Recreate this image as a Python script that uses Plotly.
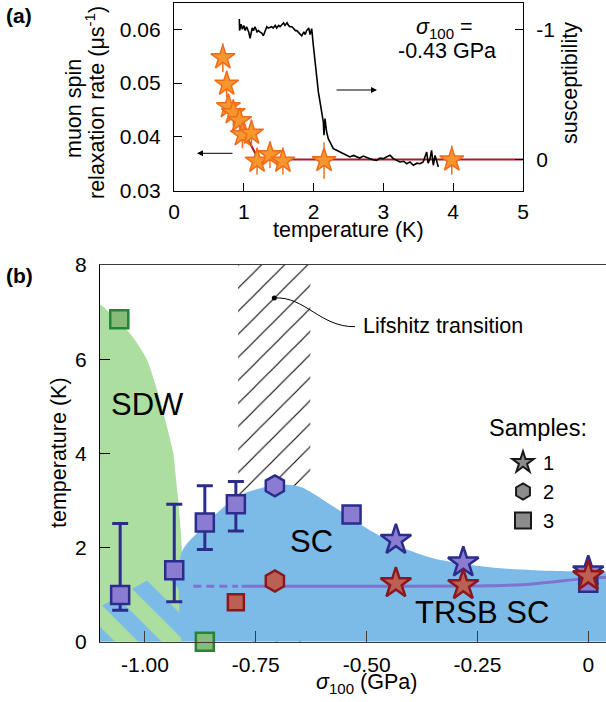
import plotly.graph_objects as go

W, H = 606, 702
FONT = "Liberation Sans, Arial, sans-serif"


def px(x):
    return x / W


def py(y):
    return 1 - y / H


# ---------------- Panel (a) data ----------------
musr_T = [0.70, 0.755, 0.78, 0.85, 0.94, 0.98, 1.11, 1.19, 1.375, 1.56, 2.15, 3.98]
musr_rate = [0.0547, 0.0498, 0.0456, 0.0445, 0.0430, 0.0404, 0.0407, 0.0355, 0.0367, 0.0355, 0.0356, 0.0357]
musr_err = [0.0027, 0.0025, 0.0024, 0.0025, 0.0024, 0.0025, 0.0025, 0.0025, 0.0025, 0.0025, 0.0034, 0.0027]

fit_T = [0.85, 1.21, 5.0]
fit_rate = [0.0448, 0.0358, 0.0358]

chi_T = [0.936, 0.94, 0.96, 0.98, 1.00, 1.02, 1.04, 1.07, 1.09, 1.12, 1.14, 1.16, 1.19,
         1.21, 1.23, 1.26, 1.28, 1.31, 1.33, 1.35, 1.38, 1.40, 1.42, 1.45, 1.47, 1.50,
         1.52, 1.54, 1.57, 1.59, 1.62, 1.64, 1.66, 1.69, 1.71, 1.74, 1.76, 1.78, 1.81,
         1.83, 1.86, 1.88, 1.90, 1.93, 1.95, 1.973, 1.996, 2.02, 2.044, 2.068, 2.092,
         2.116, 2.139, 2.149, 2.163, 2.187, 2.21, 2.235, 2.259, 2.283, 2.33, 2.378,
         2.426, 2.47, 2.52, 2.57, 2.617, 2.66, 2.712, 2.76, 2.808, 2.85, 2.904, 2.95,
         2.999, 3.05, 3.095, 3.142, 3.19, 3.238, 3.29, 3.334, 3.38, 3.43, 3.48, 3.524,
         3.57, 3.62, 3.64, 3.668, 3.69, 3.715, 3.74, 3.763, 3.787]
chi = [-1.08, -0.99, -1.04, -1.00, -1.03, -0.99, -1.02, -0.98, -0.93, -1.01, -0.99, -1.02, -0.98,
       -0.99, -0.98, -0.97, -0.95, -0.99, -1.02, -1.01, -1.02, -1.02, -1.01, -1.03, -1.01, -1.03,
       -1.02, -1.03, -1.05, -1.03, -1.05, -1.03, -1.02, -1.02, -1.01, -0.99, -0.99, -0.98, -0.96,
       -0.95, -0.98, -0.96, -0.99, -1.01, -0.96, -1.005, -0.877, -0.748, -0.62, -0.518, -0.441,
       -0.364, -0.287, -0.185, -0.313, -0.21, -0.159, -0.133, -0.108, -0.082, -0.069, -0.056,
       -0.043, -0.03, -0.018, -0.03, -0.018, -0.01, -0.025, -0.012, -0.005, 0.004, 0.008, -0.01,
       -0.005, -0.02, -0.031, -0.005, 0.01, 0.021, 0.015, 0.034, 0.02, 0.046, 0.03, 0.034,
       0.02, -0.056, 0.03, -0.005, -0.069, 0.046, -0.03, 0.021, 0.059]

# ---------------- Panel (b) data ----------------
sdw_sigma = [-1.1015, -1.1015, -1.0715, -1.034, -0.996, -0.966, -0.936, -0.932, -0.925, -0.917, -0.915]
sdw_T = [0.0, 7.15, 6.9, 6.55, 6.0, 5.13, 4.0, 3.64, 3.0, 2.0, 0.0]

stripe_sigma = [-1.1015, -1.1015, -0.967, -0.918, -0.918]
stripe_T = [0.0, 0.74, 1.45, 1.45, 0.0]

dome_sigma = [-0.918, -0.918, -0.876, -0.838, -0.786, -0.725, -0.695, -0.650, -0.575, -0.500,
              -0.425, -0.350, -0.274, -0.199, -0.124, -0.012, 0.04, 0.04]
dome_T = [0.0, 1.88, 2.37, 2.73, 3.11, 3.29, 3.33, 3.29, 2.87, 2.41,
          2.02, 1.77, 1.64, 1.56, 1.52, 1.49, 1.47, 0.0]

lifshitz_sigma = [-0.790, -0.627, -0.627, -0.790]
lifshitz_T = [0.0, 0.0, 8.0, 8.0]

trsb_dash_sigma = [-0.891, -0.790]
trsb_dash_T = [1.18, 1.18]
trsb_sigma = [-0.782, -0.50, -0.25, -0.15, -0.10, -0.05, 0.0, 0.04]
trsb_T = [1.18, 1.18, 1.185, 1.21, 1.25, 1.30, 1.35, 1.37]

# upper transition (SC onset)
sc3_err_sigma = [-1.056, -0.934, -0.865, -0.795]
sc3_err_T = [0.99, 1.52, 2.53, 2.92]
sc3_err_plus = [1.52, 1.40, 0.78, 0.48]
sc3_err_minus = [0.32, 0.67, 0.57, 0.57]
sc3_sigma = [-0.534, 0.0]
sc3_T = [2.70, 1.25]
sc2_sigma = [-0.707]
sc2_T = [3.31]
sc1_sigma = [-0.434, -0.282, 0.0]
sc1_T = [2.16, 1.68, 1.49]

# TRSB onset
tr3_sigma = [-0.795]
tr3_T = [0.84]
tr2_sigma = [-0.707]
tr2_T = [1.29]
tr1_sigma = [-0.434, -0.282, 0.0]
tr1_T = [1.24, 1.20, 1.39]

# SDW
sdw3_sigma = [-1.058, -0.865]
sdw3_T = [6.85, 0.0]

legend_names = ["1", "2", "3"]
legend_symbols = ["star", "hexagon", "square"]
legend_sizes = [22, 19, 16]

# colours
GREEN_FILL = "rgb(172,222,160)"
BLUE_FILL = "rgb(124,187,232)"
PURPLE = "rgb(138,124,208)"
NAVY = "rgb(44,44,140)"
RED_FILL = "rgb(188,96,86)"
RED_EDGE = "rgb(138,24,30)"
GRN_MK = "rgb(136,186,122)"
GRN_EDGE = "rgb(36,132,58)"
ORANGE = "rgb(246,150,44)"
ORANGE_EDGE = "rgb(238,108,28)"

fig = go.Figure()

# ---- panel (a) ----
fig.add_trace(go.Scatter(x=fit_T, y=fit_rate, mode="lines",
                         line=dict(color="rgb(168,28,40)", width=2),
                         xaxis="x", yaxis="y", showlegend=False))
fig.add_trace(go.Scatter(x=musr_T, y=musr_rate, mode="markers",
                         error_y=dict(type="data", array=musr_err, color=ORANGE_EDGE,
                                      thickness=1.5, width=0),
                         marker=dict(symbol="star", size=18, color=ORANGE,
                                     line=dict(color=ORANGE_EDGE, width=1.5)),
                         xaxis="x", yaxis="y", showlegend=False))
fig.add_trace(go.Scatter(x=chi_T, y=chi, mode="lines",
                         line=dict(color="black", width=1.6),
                         xaxis="x", yaxis="y2", showlegend=False))

# ---- panel (b) ----
fig.add_trace(go.Scatter(x=sdw_sigma, y=sdw_T, mode="lines", fill="toself",
                         fillcolor=GREEN_FILL, line=dict(width=0, shape="spline", smoothing=0.6),
                         xaxis="x3", yaxis="y3", showlegend=False, hoverinfo="skip"))
fig.add_trace(go.Scatter(x=lifshitz_sigma, y=lifshitz_T, mode="lines", fill="toself",
                         fillcolor="rgba(0,0,0,0)",
                         fillpattern=dict(shape="/", size=16.3, solidity=0.065,
                                          fgcolor="black", bgcolor="rgba(255,255,255,0)",
                                          fillmode="replace"),
                         line=dict(width=0),
                         xaxis="x3", yaxis="y3", showlegend=False, hoverinfo="skip"))
fig.add_trace(go.Scatter(x=stripe_sigma, y=stripe_T, mode="lines", fill="toself",
                         fillcolor="rgba(0,0,0,0)",
                         fillpattern=dict(shape="\\", size=33, solidity=0.5,
                                          fgcolor=BLUE_FILL, bgcolor=GREEN_FILL,
                                          fillmode="replace"),
                         line=dict(width=0),
                         xaxis="x3", yaxis="y3", showlegend=False, hoverinfo="skip"))
fig.add_trace(go.Scatter(x=dome_sigma, y=dome_T, mode="lines", fill="toself",
                         fillcolor=BLUE_FILL, line=dict(width=0, shape="spline", smoothing=0.8),
                         xaxis="x3", yaxis="y3", showlegend=False, hoverinfo="skip"))

# TRSB line
fig.add_trace(go.Scatter(x=trsb_dash_sigma, y=trsb_dash_T, mode="lines",
                         line=dict(color="rgba(128,108,205,0.9)", width=3, dash="8px,5px"),
                         xaxis="x3", yaxis="y3", showlegend=False))
fig.add_trace(go.Scatter(x=trsb_sigma, y=trsb_T, mode="lines",
                         line=dict(color="rgba(128,108,205,0.9)", width=3, shape="spline"),
                         xaxis="x3", yaxis="y3", showlegend=False))

# markers
fig.add_trace(go.Scatter(x=sc3_err_sigma, y=sc3_err_T, mode="markers",
                         error_y=dict(type="data", symmetric=False, array=sc3_err_plus,
                                      arrayminus=sc3_err_minus, color=NAVY, thickness=3, width=8),
                         marker=dict(symbol="square", size=18, color=PURPLE,
                                     line=dict(color=NAVY, width=2.5)),
                         xaxis="x3", yaxis="y3", showlegend=False))
fig.add_trace(go.Scatter(x=sc3_sigma, y=sc3_T, mode="markers",
                         marker=dict(symbol="square", size=18, color=PURPLE,
                                     line=dict(color=NAVY, width=2.5)),
                         xaxis="x3", yaxis="y3", showlegend=False))
fig.add_trace(go.Scatter(x=sc2_sigma, y=sc2_T, mode="markers",
                         marker=dict(symbol="hexagon", size=21, color=PURPLE,
                                     line=dict(color=NAVY, width=2.5)),
                         xaxis="x3", yaxis="y3", showlegend=False))
fig.add_trace(go.Scatter(x=sc1_sigma, y=sc1_T, mode="markers",
                         marker=dict(symbol="star", size=23, color=PURPLE,
                                     line=dict(color=NAVY, width=2.5)),
                         xaxis="x3", yaxis="y3", showlegend=False))
fig.add_trace(go.Scatter(x=tr3_sigma, y=tr3_T, mode="markers",
                         marker=dict(symbol="square", size=16, color=RED_FILL,
                                     line=dict(color=RED_EDGE, width=2.5)),
                         xaxis="x3", yaxis="y3", showlegend=False))
fig.add_trace(go.Scatter(x=tr2_sigma, y=tr2_T, mode="markers",
                         marker=dict(symbol="hexagon", size=21, color=RED_FILL,
                                     line=dict(color=RED_EDGE, width=2.5)),
                         xaxis="x3", yaxis="y3", showlegend=False))
fig.add_trace(go.Scatter(x=tr1_sigma, y=tr1_T, mode="markers",
                         marker=dict(symbol="star", size=23, color=RED_FILL,
                                     line=dict(color=RED_EDGE, width=2.5)),
                         xaxis="x3", yaxis="y3", showlegend=False))
fig.add_trace(go.Scatter(x=sdw3_sigma, y=sdw3_T, mode="markers", cliponaxis=False,
                         marker=dict(symbol="square", size=18, color=GRN_MK,
                                     line=dict(color=GRN_EDGE, width=2.5)),
                         xaxis="x3", yaxis="y3", showlegend=False))

# Lifshitz pointer dot
fig.add_trace(go.Scatter(x=[-0.7083], y=[7.30], mode="markers",
                         marker=dict(size=5, color="black"),
                         xaxis="x3", yaxis="y3", showlegend=False))

# legend entries
for name, sym, sz in zip(legend_names, legend_symbols, legend_sizes):
    fig.add_trace(go.Scatter(x=[None], y=[None], mode="markers", name=name,
                             marker=dict(symbol=sym, size=sz, color="rgb(140,140,140)",
                                         line=dict(color="rgb(25,25,25)", width=2)),
                             xaxis="x3", yaxis="y3", showlegend=True))

axis_common = dict(showgrid=False, zeroline=False, showline=True, linecolor="black",
                   linewidth=1.3, ticks="inside", tickcolor="black", tickwidth=1.3,
                   automargin=False,
                   tickfont=dict(family=FONT, size=21, color="black"))

fig.update_layout(
    width=W, height=H,
    margin=dict(l=0, r=0, t=0, b=0, pad=0, autoexpand=False),
    paper_bgcolor="white", plot_bgcolor="rgba(0,0,0,0)",
    font=dict(family=FONT, color="black"),
    xaxis=dict(domain=[px(174), px(523)], range=[0, 5], dtick=1, tick0=0, anchor="y",
               mirror=True, ticklen=8, ticklabelstandoff=2, **axis_common),
    yaxis=dict(domain=[py(190.7), py(3.3)], range=[0.03, 0.0648], tickvals=[0.03, 0.04, 0.05, 0.06],
               ticktext=["0.03", "0.04", "0.05", "0.06"], anchor="x", mirror=True, ticklen=8,
               ticklabelstandoff=8, **axis_common),
    yaxis2=dict(overlaying="y", side="right", anchor="x", range=[0.2415, -1.2],
                tickvals=[-1, 0], ticktext=["-1", "0"], ticklen=8, ticklabelstandoff=8,
                **axis_common),
    xaxis3=dict(domain=[px(100), 1.0], range=[-1.1015, 0.04], anchor="y3",
                tickvals=[-1.0, -0.75, -0.5, -0.25, 0.0],
                ticktext=["-1.00", "-0.75", "-0.50", "-0.25", "0"],
                mirror=True, ticklen=11, ticklabelstandoff=4,
                **{**axis_common, "linecolor": "rgb(60,60,60)", "tickcolor": "rgb(60,60,60)"}),
    yaxis3=dict(domain=[py(641.7), py(265)], range=[0, 8], anchor="x3", dtick=2, tick0=0,
                ticklen=10, ticklabelstandoff=8, mirror=False, **axis_common),
    legend=dict(x=px(503), y=py(443), xanchor="left", yanchor="top",
                font=dict(family=FONT, size=20, color="black"),
                bgcolor="rgba(0,0,0,0)", itemsizing="trace", tracegroupgap=0),
    showlegend=True,
)

# Lifshitz curved pointer (cubic Bezier in data coordinates)
fig.add_shape(type="path", xref="x3", yref="y3",
              path="M -0.7083,7.30 C -0.639,7.34 -0.605,6.68 -0.5263,6.69",
              line=dict(color="black", width=1))

ann = []


def text(x, y, s, size=21.5, angle=0, xanchor="center"):
    ann.append(dict(x=px(x), y=py(y), xref="paper", yref="paper", text=s, showarrow=False,
                    font=dict(family=FONT, size=size, color="black"),
                    textangle=angle, xanchor=xanchor, yanchor="middle"))


text(19, 15, "<b>(a)</b>", 21)
text(74, 109, "muon spin", angle=-90)
text(95, 103, "relaxation rate (μs<sup>-1</sup>)", angle=-90)
text(570, 83, "susceptibility", angle=-90)
text(348, 230, "temperature (K)")
text(445, 28, "<i>σ</i><sub>100</sub> =")
text(447, 51, "-0.43 GPa")
text(19, 275, "<b>(b)</b>", 21)
text(59, 453, "temperature (K)", angle=-90)
text(366, 683, "<i>σ</i><sub>100</sub> (GPa)")
text(147, 404, "SDW", 31)
text(311, 541, "SC", 31)
text(482, 612, "TRSB SC", 31)
text(361, 326, "Lifshitz transition", xanchor="left")
text(538, 428, "Samples:", 23.5)

# arrows in panel (a)
ann.append(dict(x=px(197), y=py(153.3), ax=37, ay=0, xref="paper", yref="paper",
                showarrow=True, arrowhead=2, arrowsize=1.2,
                arrowwidth=1, arrowcolor="black", text=""))
ann.append(dict(x=px(377), y=py(90), ax=-42, ay=0, xref="paper", yref="paper",
                showarrow=True, arrowhead=2, arrowsize=1.2,
                arrowwidth=1, arrowcolor="black", text=""))

fig.update_layout(annotations=ann)

fig.write_html("out.html", config={"displayModeBar": False},
               post_script="document.body.style.margin='0px';document.body.style.padding='0px';")
